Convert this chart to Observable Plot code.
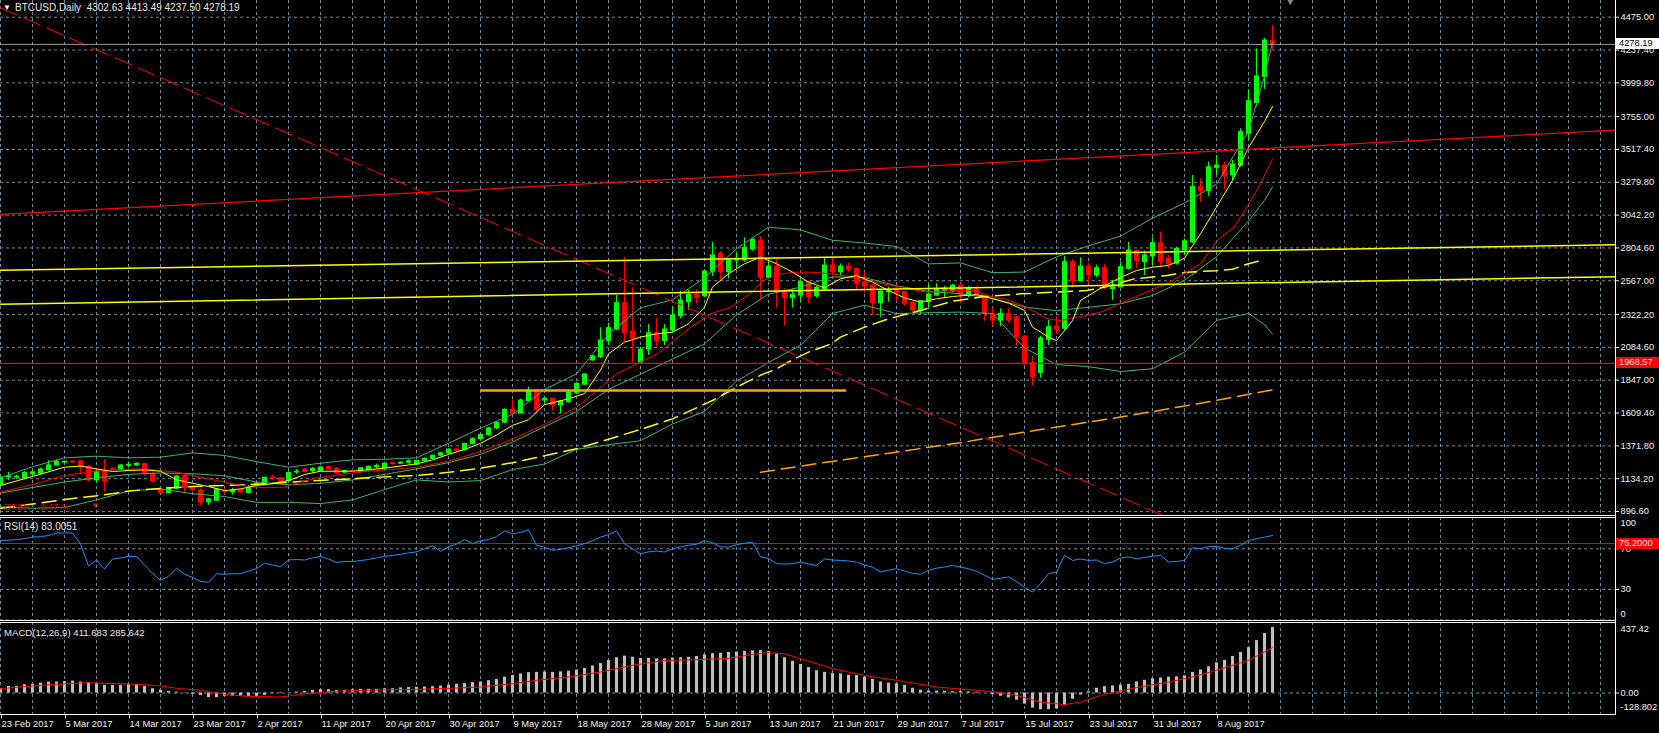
<!DOCTYPE html>
<html><head><meta charset="utf-8">
<script src="https://cdn.jsdelivr.net/npm/d3@7"></script>
<script src="https://cdn.jsdelivr.net/npm/@observablehq/plot@0.6"></script>
<style>
html,body{margin:0;padding:0;background:#000;overflow:hidden;}
#chart{position:relative;width:1659px;height:733px;background:#000;overflow:hidden;font-family:"Liberation Sans",Arial,sans-serif;font-size:9.3px;color:#f0f0f0;}
.pane{position:absolute;left:0;}
.hl{position:absolute;background:#fff;}
.lbl{position:absolute;white-space:nowrap;line-height:11px;}
.box{position:absolute;left:1616px;width:43px;height:11px;line-height:11px;padding-left:3px;box-sizing:border-box;white-space:nowrap;}
</style></head><body>
<div id="chart"></div>
<script>
// ---------- DATA ----------
const dateLabels = ["23 Feb 2017","5 Mar 2017","14 Mar 2017","23 Mar 2017","2 Apr 2017","11 Apr 2017","20 Apr 2017","30 Apr 2017","9 May 2017","18 May 2017","28 May 2017","5 Jun 2017","13 Jun 2017","21 Jun 2017","29 Jun 2017","7 Jul 2017","15 Jul 2017","23 Jul 2017","31 Jul 2017","8 Aug 2017"];
const xTickBars = [0,8,16,24,32,40,48,56,64,72,80,88,96,104,112,120,128,136,144,152];
const gridBars = [0,4,8,12,16,20,24,28,32,36,40,44,48,52,56,60,64,68,72,76,80,84,88,92,96,100,104,108,112,116,120,124,128,132,136,140,144,148,152,156,160,164,168,172,176,180,184,188,192,196,200];
const priceTicks = [4475.00,4237.40,3999.80,3755.00,3517.40,3279.80,3042.20,2804.60,2567.00,2322.20,2084.60,1847.00,1609.40,1371.80,1134.20,896.60];

const openP = [1090,1145,1142,1135,1165,1170,1195,1230,1250,1258,
1258,1222,1122,1185,1205,1200,1228,1230,1240,1170,
1055,1030,1062,1155,1075,1050,962,975,1045,1035,
1050,1030,1092,1088,1142,1135,1115,1180,1200,1190,
1188,1218,1205,1178,1192,1185,1195,1218,1210,1246,
1242,1250,1235,1262,1278,1300,1318,1345,1340,1385,
1420,1450,1498,1540,1632,1608,1695,1773,1700,1712,
1664,1688,1753,1814,1990,2014,2130,2214,2405,2200,
1973,2069,2187,2130,2207,2311,2412,2465,2455,2634,
2762,2629,2714,2714,2793,2858,2588,2670,2484,2441,
2460,2557,2455,2503,2677,2629,2670,2653,2557,2532,
2404,2484,2501,2484,2407,2352,2412,2460,2495,2489,
2532,2460,2501,2460,2327,2279,2327,2303,2163,1970,
1900,2139,2236,2219,2702,2564,2670,2605,2658,2506,
2520,2653,2781,2702,2743,2839,2725,2690,2786,2846,
3245,3216,3385,3401,3329,3401,3631,3853,4041,4302.63];
const highP = [1150,1180,1160,1185,1190,1210,1265,1270,1262,1262,
1265,1230,1185,1272,1212,1235,1255,1248,1245,1175,
1060,1070,1155,1165,1080,1060,990,1060,1060,1065,
1060,1085,1110,1145,1160,1140,1185,1200,1205,1215,
1222,1225,1215,1195,1196,1215,1225,1240,1253,1252,
1255,1270,1268,1285,1305,1325,1350,1352,1390,1430,
1460,1505,1545,1640,1705,1710,1797,1780,1725,1718,
1700,1777,1830,1895,2025,2226,2260,2460,2738,2516,
2085,2250,2296,2250,2383,2492,2497,2501,2646,2846,
2779,2725,2774,2878,2878,2887,2718,2718,2508,2508,
2574,2565,2525,2730,2738,2689,2694,2660,2629,2540,
2495,2520,2525,2490,2410,2425,2540,2545,2525,2540,
2545,2525,2525,2465,2371,2364,2364,2310,2170,2020,
2163,2279,2308,2743,2719,2733,2694,2680,2685,2569,
2702,2846,2790,2781,2878,2919,2750,2810,2870,3329,
3305,3426,3474,3426,3438,3667,3949,4246,4323,4413.49];
const lowP = [1080,1120,1130,1130,1155,1165,1190,1225,1245,1248,
1165,1110,1105,1036,1195,1195,1215,1225,1155,1105,
1025,1028,1055,1024,1045,935,940,970,1020,1015,
1030,1025,1085,1085,1120,1105,1110,1165,1178,1175,
1185,1195,1165,1170,1185,1180,1190,1205,1205,1232,
1238,1240,1230,1255,1270,1292,1310,1320,1335,1378,
1410,1440,1490,1530,1595,1600,1690,1600,1680,1623,
1604,1680,1745,1810,1985,2005,2098,2205,2122,1973,
1965,2026,2086,2098,2195,2291,2352,2400,2445,2598,
2569,2581,2653,2700,2780,2429,2575,2371,2236,2369,
2412,2400,2440,2490,2605,2597,2629,2503,2477,2315,
2303,2412,2419,2380,2340,2323,2364,2455,2443,2480,
2404,2443,2450,2274,2236,2236,2260,2091,1946,1805,
1860,2098,2178,2210,2516,2560,2540,2590,2500,2424,
2515,2645,2653,2605,2677,2660,2653,2680,2750,2835,
3136,3177,3329,3225,3293,3389,3583,3824,3952,4237.5];
const closeP = [1140,1150,1148,1175,1180,1200,1230,1255,1256,1252,
1218,1122,1180,1113,1200,1230,1235,1242,1170,1115,
1030,1068,1150,1068,1050,960,985,1055,1040,1045,
1035,1065,1098,1140,1135,1110,1175,1185,1182,1205,
1215,1200,1172,1190,1188,1210,1220,1225,1242,1240,
1250,1260,1262,1278,1300,1318,1345,1335,1385,1420,
1450,1498,1538,1632,1605,1700,1773,1632,1712,1664,
1693,1756,1821,1888,2021,2134,2224,2405,2190,2146,
2069,2187,2130,2214,2315,2424,2465,2441,2634,2750,
2629,2714,2726,2805,2863,2588,2670,2484,2441,2465,
2557,2448,2516,2677,2629,2670,2646,2545,2525,2404,
2489,2501,2477,2400,2352,2419,2467,2501,2508,2532,
2467,2508,2460,2327,2279,2327,2279,2158,1965,1870,
2150,2231,2212,2702,2564,2670,2605,2658,2526,2526,
2665,2786,2709,2750,2839,2702,2685,2798,2853,3245,
3216,3389,3401,3322,3409,3643,3867,4046,4306,4278.19];

// Bollinger bands (read every 4 bars)
const bbBars = [0,4,8,12,16,20,24,28,32,36,40,44,48,52,56,60,64,68,72,76,80,84,88,92,96,100,104,108,112,116,120,124,128,132,136,140,144,148,152,156,158,159];
const bbUpper = [1140,1220,1285,1297,1285,1290,1321,1302,1258,1217,1246,1270,1275,1285,1390,1500,1600,1780,1893,2180,2371,2429,2588,2798,2955,2935,2860,2840,2815,2689,2696,2625,2630,2740,2820,2890,3020,3130,3265,3650,4050,4294];
const bbMiddle = [1030,1070,1110,1140,1165,1175,1170,1155,1110,1090,1100,1125,1165,1205,1250,1310,1400,1510,1620,1780,1890,2000,2110,2320,2470,2520,2595,2590,2530,2490,2472,2440,2376,2350,2375,2400,2460,2570,2740,3000,3150,3245];
const bbLower = [930,920,925,980,1045,1060,1025,1005,962,963,954,980,1055,1125,1110,1120,1200,1240,1347,1380,1409,1530,1620,1840,1975,2100,2330,2390,2330,2335,2340,2330,2080,1960,1945,1910,1930,2050,2280,2330,2250,2180];

// Moving averages [bar, price]
const maFast = [[0,1085],[4,1150],[8,1217],[10,1225],[12,1205],[14,1186],[16,1193],[18,1198],[20,1188],[22,1126],[24,1101],[26,1077],[28,1048],[30,1060],[32,1085],[34,1097],[36,1121],[38,1164],[40,1188],[44,1188],[48,1210],[52,1241],[54,1270],[56,1310],[58,1345],[60,1390],[62,1450],[64,1520],[66,1560],[68,1670],[71,1712],[73,1750],[75,1920],[76,2038],[78,2122],[80,2159],[82,2183],[84,2195],[86,2255],[88,2376],[89,2521],[91,2617],[93,2690],[95,2738],[97,2690],[99,2629],[101,2557],[103,2516],[105,2581],[107,2605],[109,2557],[111,2496],[113,2443],[115,2412],[117,2436],[119,2453],[122,2467],[123,2453],[126,2405],[128,2352],[129,2231],[131,2159],[132,2134],[134,2279],[135,2424],[138,2530],[140,2590],[142,2641],[144,2665],[146,2678],[148,2730],[150,2907],[152,3100],[154,3293],[156,3530],[158,3720],[159,3829]];
const maMid = [[0,1036],[4,1092],[8,1157],[11,1181],[12,1193],[15,1200],[17.5,1205],[20,1193],[22,1181],[25,1145],[27,1121],[29,1097],[31,1077],[33,1068],[35.4,1073],[37.5,1109],[39.6,1140],[41.7,1157],[43.8,1174],[45.8,1188],[48,1198],[50,1205],[52,1217],[56,1260],[60,1330],[64,1420],[69,1555],[72,1652],[74.6,1773],[77,1893],[79.6,1966],[82.1,2038],[84.2,2134],[86.3,2231],[88.8,2328],[91.3,2376],[93.8,2477],[95.4,2569],[97.1,2612],[99.2,2629],[101.3,2629],[103.8,2617],[106.7,2593],[109.2,2557],[112.5,2520],[115.8,2484],[119.2,2496],[121.7,2496],[123.3,2460],[125.8,2429],[128.3,2376],[130.8,2291],[132.5,2279],[135,2308],[137.5,2339],[140.8,2424],[143.8,2497],[145.8,2545],[147.9,2617],[150,2690],[152.1,2859],[154.2,2955],[155.8,3100],[157.5,3269],[159,3450]];
const maSlow = [[0,920],[4,950],[8,983],[13,1017],[16,1044],[19,1060],[24,1077],[28,1085],[31.5,1092],[37.5,1113],[41.7,1126],[46,1140],[49,1150],[52,1157],[56,1180],[60,1210],[64,1250],[68,1300],[72,1350],[76,1420],[80,1490],[84,1567],[89,1700],[93,1826],[95.4,1893],[97,1929],[99,1995],[101,2050],[103.8,2110],[105,2159],[108,2231],[111,2291],[115,2352],[119,2419],[123,2453],[127.5,2472],[131.7,2484],[135.8,2496],[138,2520],[141.7,2581],[145.8,2605],[148.3,2629],[152,2640],[154,2650],[156,2690],[158,2720]];
const maLong = [[95,1180],[100,1225],[110,1310],[120,1395],[130,1490],[140,1580],[150,1680],[159,1777]];

// Drawn objects
const tlRedDashed = [[0,4543],[146,850]];
const tlRedSolid = [[0,3047],[202,3658]];
const tlYellowUpper = [[0,2643],[202,2827]];
const tlYellowLower = [[0,2397],[202,2596]];
const hLineRed = 1968.57;
const hSegOrange = [{price:1772, from:60, to:105.75}];
const bidPrice = 4278.19;
const redArrow = [[11.8, 938]];
const topMarker = [[161.2, 4588]];

// RSI(14)
const rsi = [78,78.5,79,80,81.5,82,83,85.5,85.7,85.5,
75,53,59,50,60,61,62.5,62.5,54,46,
39,43,51,45,42,38,37,45.5,45,45.5,
45.5,48,50.5,56,54,52.5,59,59.5,59,61,
62.5,60,56.5,57.5,57.5,58.5,59.5,61,62.5,63.5,
64.5,66,67,70,73,67.5,72,74.5,79,75,
78,79,82,87.5,84.8,86,88.8,73.4,71.7,68.5,
69.5,71,73,75,78,81.5,84,87.5,75,70,
65.2,67,67.8,66.9,70,72,73.5,74.4,78,76,
72,71.7,74,75.5,76.6,62,60.5,55.4,55,55.4,
57,55,53.7,60,59,58.6,58,57,54,52,
47.2,49,50.4,48,46,45,48.8,51,52.1,53.7,
52,50.4,48,44,40,41,42.3,38,32,27.5,
35.7,45.6,47.2,63.6,58.6,60,58.6,59,55.4,57,
61,61.9,60.3,61.5,62.6,63.6,57,57.5,58.6,71.1,
70,72,72.4,70.5,70.1,73.4,78.2,80,81.5,83.0051];
const rsiLevel = 75.2;
const rsiGrid = [70,30,0];

// MACD(12,26,9)
const macd = [27,42,42,52,55,63,69,69,73,75,
69,65,59,48,48,48,55,55,42,27,
17,10,6,2,-8,-15,-29,-29,-21,-21,
-21,-21,-21,-15,-4,-4,1,6,10,17,
21,21,17,17,21,23,23,23,27,27,
32,34,36,38,40,44,48,55,60,66,
70,78,85,100,110,120,128,130,132,130,
133,138,145,155,170,185,205,222,232,225,
218,218,215,215,220,222,225,230,240,248,
250,255,258,262,265,268,262,245,222,200,
180,160,140,130,122,120,112,110,100,85,
70,62,58,48,30,18,12,12,10,8,
9,8,5,0,-10,-20,-30,-45,-70,-95,
-105,-105,-100,-80,-40,-12,8,30,40,45,
50,55,70,80,90,95,100,102,108,130,
145,165,190,205,230,255,285,330,375,411.683];
const macdSignal = [[0,27],[3,40],[5,48],[8,58],[11,65],[13,61],[17,55],[20,45],[22,30],[25,17],[27,0],[28,-8],[31,-22],[35,-25],[38,-6],[42,12],[46,17],[49,21],[52,23],[57,31],[60,38],[64,58],[67,80],[71,101],[75,132],[79,174],[83,205],[87,210],[91,218],[94,243],[96,254],[98,247],[100,216],[104,153],[108,111],[112,80],[117,38],[121,21],[124,8],[127,-15],[130,-57],[133,-73],[135,-57],[138,-8],[142,34],[146,69],[149,101],[152,143],[156,205],[159,285.642]];

// ---------- RENDER ----------
const TXT = "#f0f0f0", GRID = "#778899", UP = "#00ff00", DN = "#ff0000";
const BB = "#3cb371";
const FONT = '"Liberation Sans", Arial, sans-serif';
const baseStyle = {background: "transparent", color: TXT, fontFamily: FONT, fontSize: "9.3px", overflow: "visible"};
const xOpts = {domain: [0, 1615 / 8], axis: null};
const gridOpts = {stroke: GRID, strokeOpacity: 1, strokeDasharray: "3,3"};
const px = d => d[0], py = d => d[1];

const candles = openP.map((o, i) => ({i, o, h: highP[i], l: lowP[i], c: closeP[i]}));
const upC = candles.filter(d => d.c >= d.o);
const dnC = candles.filter(d => d.c < d.o);
const candleMarks = (data, color) => [
  Plot.ruleX(data, {x: "i", y1: "l", y2: "h", stroke: color, strokeWidth: 1}),
  Plot.rect(data, {x1: d => d.i - 0.25, x2: d => d.i + 0.375, y1: "o", y2: "c", fill: color, insetTop: -0.5, insetBottom: -0.5})
];
const band = arr => bbBars.map((b, k) => [b, arr[k]]);

const chart = document.getElementById("chart");

const mainPlot = Plot.plot({
  width: 1659, height: 515, marginLeft: 0, marginRight: 44, marginTop: 0, marginBottom: 0,
  x: xOpts, y: {domain: [867.5, 4595.9], axis: null},
  style: baseStyle,
  marks: [
    Plot.gridX(gridBars, gridOpts),
    Plot.gridY(priceTicks, gridOpts),
    ...candleMarks(upC, UP),
    ...candleMarks(dnC, DN),
    Plot.line(band(bbUpper), {x: px, y: py, stroke: BB, strokeWidth: 1}),
    Plot.line(band(bbMiddle), {x: px, y: py, stroke: BB, strokeWidth: 1}),
    Plot.line(band(bbLower), {x: px, y: py, stroke: BB, strokeWidth: 1}),
    Plot.line(maSlow, {x: px, y: py, stroke: "#ffff00", strokeWidth: 1.5, strokeDasharray: "14,7"}),
    Plot.line(maLong, {x: px, y: py, stroke: "#ffa500", strokeWidth: 1.5, strokeDasharray: "14,7"}),
    Plot.line(maMid, {x: px, y: py, stroke: "#ff0000", strokeWidth: 1}),
    Plot.line(maFast, {x: px, y: py, stroke: "#ffff00", strokeWidth: 1}),
    Plot.line(tlRedDashed, {x: px, y: py, stroke: "#ff0000", strokeWidth: 1, strokeDasharray: "18,7", clip: true}),
    Plot.line(tlRedSolid, {x: px, y: py, stroke: "#ff0000", strokeWidth: 1.3, clip: true}),
    Plot.line(tlYellowUpper, {x: px, y: py, stroke: "#ffff00", strokeWidth: 1.5, clip: true}),
    Plot.line(tlYellowLower, {x: px, y: py, stroke: "#ffff00", strokeWidth: 1.5, clip: true}),
    Plot.ruleY([hLineRed], {stroke: "#ff0000", strokeWidth: 1.3}),
    Plot.ruleY(hSegOrange, {y: "price", x1: "from", x2: "to", stroke: "#ffa500", strokeWidth: 2.5}),
    Plot.ruleY([bidPrice], {stroke: "#9a9a9a", strokeWidth: 1}),
    Plot.text(redArrow, {x: px, y: py, text: () => "\u25BC", fill: "#ff0000", fontSize: 8}),
    Plot.text(topMarker, {x: px, y: py, text: () => "\u25BC", fill: "#8c8c8c", fontSize: 12}),
    Plot.axisY(priceTicks, {anchor: "right", tickSize: 3, tickPadding: 2, tickFormat: d => d.toFixed(2), label: null})
  ]
});

const rsiRows = rsi.map((v, i) => ({i, v}));
const rsiPlot = Plot.plot({
  width: 1659, height: 103, marginLeft: 0, marginRight: 44, marginTop: 0, marginBottom: 0,
  x: xOpts, y: {domain: [-0.49, 100.79], axis: null},
  style: baseStyle,
  marks: [
    Plot.gridX(gridBars, gridOpts),
    Plot.gridY(rsiGrid, gridOpts),
    Plot.ruleY([rsiLevel], {stroke: "#ff0000", strokeWidth: 1}),
    Plot.line(rsiRows, {x: "i", y: "v", stroke: "#1e90ff", strokeWidth: 1}),
    Plot.axisY([70, 30], {anchor: "right", tickSize: 3, tickPadding: 2, label: null}),
    Plot.text([100], {y: d => d, text: d => String(d), frameAnchor: "right", dx: 5, dy: 5, textAnchor: "start", fill: TXT}),
    Plot.text([0], {y: d => d, text: d => String(d), frameAnchor: "right", dx: 5, dy: -6, textAnchor: "start", fill: TXT})
  ]
});

const macdRows = macd.map((v, i) => ({i, v}));
const macdPlot = Plot.plot({
  width: 1659, height: 111, marginLeft: 0, marginRight: 44, marginTop: 0, marginBottom: 19,
  x: {domain: [0, 1615 / 8]}, y: {domain: [-135.09, 443.71], axis: null},
  style: baseStyle,
  marks: [
    Plot.gridX(gridBars, gridOpts),
    Plot.gridY([0], gridOpts),
    Plot.ruleX(macdRows, {x: "i", y1: () => 0, y2: "v", stroke: "#c0c0c0", strokeWidth: 3}),
    Plot.line(macdSignal, {x: px, y: py, stroke: "#ff0000", strokeWidth: 1}),
    Plot.axisY([0], {anchor: "right", tickSize: 3, tickPadding: 2, tickFormat: () => "0.00", label: null}),
    Plot.text([437.42], {y: d => d, text: () => "437.42", frameAnchor: "right", dx: 5, dy: 6, textAnchor: "start", fill: TXT}),
    Plot.text([-128.802], {y: d => d, text: () => "-128.802", frameAnchor: "right", dx: 5, dy: -6, textAnchor: "start", fill: TXT}),
    Plot.axisX(xTickBars, {anchor: "bottom", tickSize: 4, tickPadding: 2, textAnchor: "start", dx: 1, tickFormat: d => dateLabels[d / 8], label: null})
  ]
});

function place(el, top) {
  const d = document.createElement("div");
  d.className = "pane"; d.style.top = top + "px";
  d.appendChild(el); chart.appendChild(d);
}
place(mainPlot, 0);
place(rsiPlot, 517);
place(macdPlot, 622);

function line(left, top, w, h) {
  const d = document.createElement("div");
  d.className = "hl";
  Object.assign(d.style, {left: left + "px", top: top + "px", width: w + "px", height: h + "px"});
  chart.appendChild(d);
}
line(0, 515, 1616, 1); line(0, 517, 1616, 1);
line(0, 620, 1616, 1); line(0, 622, 1616, 1);
line(0, 714, 1616, 1);
line(1615, 0, 1, 715);

function label(text, left, cy, color, size) {
  const d = document.createElement("div");
  d.className = "lbl";
  d.textContent = text;
  Object.assign(d.style, {left: left + "px", top: (cy - 5.5) + "px", color: color});
  if (size) d.style.fontSize = size;
  chart.appendChild(d);
}
label("\u25BC", 3, 7, "#ffffff", "8px");
label("BTCUSD,Daily\u00A0\u00A04302.63 4413.49 4237.50 4278.19", 15, 7, "#e8e8e8", "10px");
label("DTCh : -0.47 %", 4, 506, "#d40000", "9.5px");
label("RSI(14) 83.0051", 4, 526, "#e8e8e8", "10px");
label("MACD(12,26,9) 411.683 285.642", 4, 632, "#e8e8e8", "9.6px");

function box(text, cy, bg, fg) {
  const d = document.createElement("div");
  d.className = "box";
  d.textContent = text;
  Object.assign(d.style, {top: (cy - 5.5) + "px", background: bg, color: fg});
  chart.appendChild(d);
}
const yMain = mainPlot.scale("y"), yRsi = rsiPlot.scale("y");
box("4278.19", yMain.apply(bidPrice), "#ffffff", "#000000");
box("1968.57", yMain.apply(hLineRed), "#ff0000", "#ffe0e0");
box("75.2000", 517 + yRsi.apply(rsiLevel), "#ff0000", "#ffe0e0");
</script>
</body></html>
